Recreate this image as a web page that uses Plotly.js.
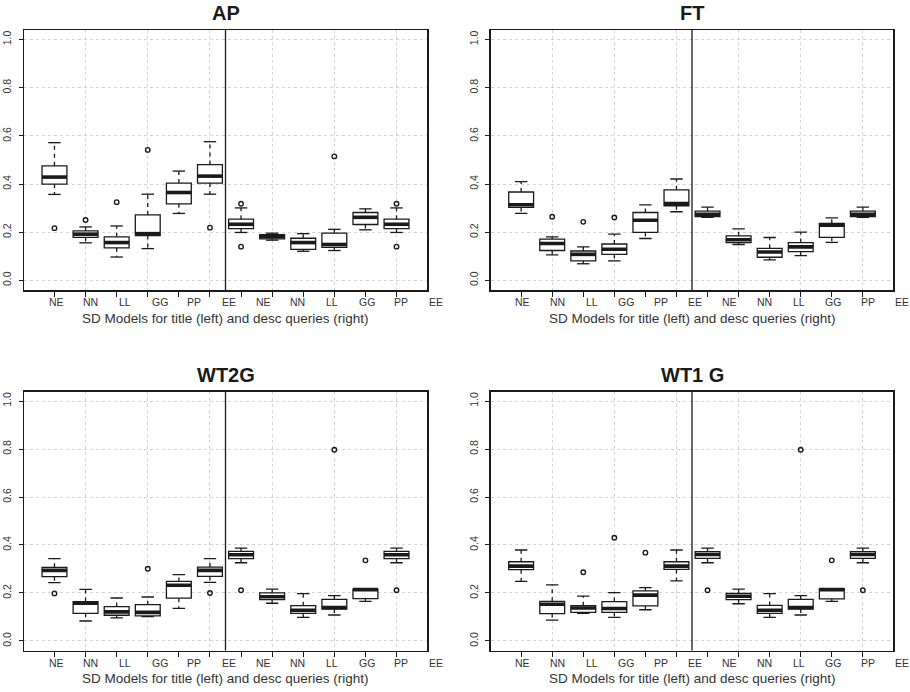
<!DOCTYPE html>
<html>
<head>
<meta charset="utf-8">
<script src="https://cdn.plot.ly/plotly-3.0.1.min.js"></script>
<style>html,body{margin:0;padding:0;background:#fff;}#chart{width:910px;height:692px;}</style>
</head>
<body>
<div id="chart"></div>
<script>
// ---------------- data ----------------
const panelTitles = ['AP', 'FT', 'WT2G', 'WT1 G'];
const models = ['NE', 'NN', 'LL', 'GG', 'PP', 'EE'];
const tickLabels = models.concat(models); // title (left) + desc (right)
const xAxisTitle = 'SD Models for title (left) and desc queries (right)';
const yTickVals = [0, 0.2, 0.4, 0.6, 0.8, 1.0];
const yTickText = ['0.0', '0.2', '0.4', '0.6', '0.8', '1.0'];

// AP
const apLower = [0.357, 0.156, 0.097, 0.132, 0.278, 0.358, 0.199, 0.167, 0.121, 0.124, 0.210, 0.199];
const apQ1    = [0.400, 0.179, 0.135, 0.186, 0.318, 0.404, 0.215, 0.172, 0.129, 0.137, 0.232, 0.215];
const apMed   = [0.429, 0.192, 0.157, 0.194, 0.365, 0.433, 0.233, 0.182, 0.157, 0.149, 0.262, 0.233];
const apQ3    = [0.476, 0.206, 0.181, 0.272, 0.404, 0.481, 0.254, 0.190, 0.175, 0.196, 0.282, 0.254];
const apUpper = [0.572, 0.222, 0.226, 0.358, 0.454, 0.576, 0.301, 0.196, 0.194, 0.212, 0.297, 0.301];
const apOutBox = [1, 2, 3, 4, 6, 7, 7, 10, 12, 12];
const apOutVal = [0.217, 0.251, 0.325, 0.542, 0.219, 0.318, 0.140, 0.515, 0.318, 0.140];

// FT
const ftLower = [0.278, 0.106, 0.069, 0.081, 0.174, 0.285, 0.262, 0.149, 0.085, 0.103, 0.158, 0.262];
const ftQ1    = [0.303, 0.124, 0.081, 0.108, 0.199, 0.310, 0.265, 0.157, 0.096, 0.119, 0.179, 0.265];
const ftMed   = [0.314, 0.153, 0.108, 0.129, 0.250, 0.319, 0.274, 0.169, 0.118, 0.139, 0.229, 0.274];
const ftQ3    = [0.367, 0.171, 0.122, 0.151, 0.282, 0.376, 0.288, 0.185, 0.133, 0.157, 0.237, 0.288];
const ftUpper = [0.410, 0.181, 0.139, 0.192, 0.314, 0.421, 0.304, 0.214, 0.178, 0.200, 0.260, 0.304];
const ftOutBox = [2, 3, 4];
const ftOutVal = [0.264, 0.243, 0.261];

// WT2G
const wt2gLower = [0.243, 0.083, 0.096, 0.101, 0.136, 0.244, 0.326, 0.157, 0.098, 0.108, 0.165, 0.326];
const wt2gQ1    = [0.268, 0.115, 0.107, 0.104, 0.178, 0.269, 0.343, 0.172, 0.115, 0.133, 0.176, 0.343];
const wt2gMed   = [0.294, 0.157, 0.121, 0.119, 0.232, 0.294, 0.359, 0.184, 0.128, 0.139, 0.214, 0.359];
const wt2gQ3    = [0.307, 0.164, 0.143, 0.151, 0.248, 0.308, 0.373, 0.200, 0.147, 0.173, 0.216, 0.373];
const wt2gUpper = [0.343, 0.215, 0.179, 0.183, 0.276, 0.343, 0.387, 0.216, 0.197, 0.189, 0.218, 0.387];
const wt2gOutBox = [1, 4, 6, 7, 10, 11, 12];
const wt2gOutVal = [0.198, 0.301, 0.200, 0.211, 0.797, 0.336, 0.211];

// WT1 G
const wt1gLower = [0.248, 0.087, 0.115, 0.098, 0.130, 0.250, 0.326, 0.155, 0.098, 0.108, 0.165, 0.326];
const wt1gQ1    = [0.297, 0.114, 0.119, 0.119, 0.146, 0.298, 0.344, 0.172, 0.115, 0.133, 0.175, 0.344];
const wt1gMed   = [0.312, 0.153, 0.137, 0.135, 0.191, 0.312, 0.360, 0.186, 0.128, 0.139, 0.214, 0.360];
const wt1gQ3    = [0.330, 0.165, 0.147, 0.164, 0.209, 0.330, 0.372, 0.198, 0.148, 0.173, 0.218, 0.372];
const wt1gUpper = [0.379, 0.234, 0.187, 0.201, 0.222, 0.379, 0.387, 0.216, 0.197, 0.189, 0.218, 0.387];
const wt1gOutBox = [3, 4, 5, 7, 10, 11, 12];
const wt1gOutVal = [0.286, 0.430, 0.368, 0.211, 0.797, 0.336, 0.211];

// ---------------- drawing ----------------
const panelData = [
  {lo: apLower, q1: apQ1, med: apMed, q3: apQ3, hi: apUpper, ob: apOutBox, ov: apOutVal},
  {lo: ftLower, q1: ftQ1, med: ftMed, q3: ftQ3, hi: ftUpper, ob: ftOutBox, ov: ftOutVal},
  {lo: wt2gLower, q1: wt2gQ1, med: wt2gMed, q3: wt2gQ3, hi: wt2gUpper, ob: wt2gOutBox, ov: wt2gOutVal},
  {lo: wt1gLower, q1: wt1gQ1, med: wt1gMed, q3: wt1gQ3, hi: wt1gUpper, ob: wt1gOutBox, ov: wt1gOutVal}
];

const W = 910, H = 692;
const geom = [
  {l: 24, r: 427, t: 30, b: 290},
  {l: 490.7, r: 893.3, t: 30, b: 290},
  {l: 24, r: 427, t: 391.5, b: 650.5},
  {l: 490.7, r: 893.3, t: 391.5, b: 650.5}
];
const XR = [0.02, 12.98];
const FONT = 'Liberation Sans, Arial, Helvetica, sans-serif';
const INK = '#1a1a1a';
const GRID = '#d4d4d4';
const BOXW = 0.8, STAPLE = 0.4;

const traces = [];
const layout = {
  width: W, height: H,
  margin: {l: 0, r: 0, t: 0, b: 0},
  paper_bgcolor: '#fff', plot_bgcolor: '#fff',
  showlegend: false,
  font: {family: FONT, color: INK},
  annotations: [], shapes: []
};

const positions = tickLabels.map((_, i) => i + 1);
const evenPos = positions.filter(p => p % 2 === 0);
const oddPos = positions.filter(p => p % 2 === 1);

panelData.forEach((d, k) => {
  const g = geom[k];
  const xa = 'x' + (k === 0 ? '' : k + 1);
  const ya = 'y' + (k === 0 ? '' : k + 1);
  const xKey = 'xaxis' + (k === 0 ? '' : k + 1);
  const yKey = 'yaxis' + (k === 0 ? '' : k + 1);
  // maps an x-axis value to paper fraction (for labels that fall beyond the axis range)
  const toPaperX = v => (g.l + (v - XR[0]) / (XR[1] - XR[0]) * (g.r - g.l)) / W;

  layout[xKey] = {
    domain: [g.l / W, g.r / W],
    anchor: ya,
    range: XR,
    tickmode: 'array', tickvals: evenPos, ticktext: evenPos.map(() => ''),
    showticklabels: false,
    ticks: 'outside', ticklen: 5, tickwidth: 1, tickcolor: INK,
    showgrid: true, gridcolor: GRID, gridwidth: 1, griddash: 'dot',
    minor: {tickmode: 'array', tickvals: oddPos, ticks: 'outside', ticklen: 5, tickwidth: 1, tickcolor: INK, showgrid: false},
    zeroline: false,
    showline: true, linecolor: INK, linewidth: 1.5, mirror: true,
    fixedrange: true
  };
  layout[yKey] = {
    domain: [1 - g.b / H, 1 - g.t / H],
    anchor: xa,
    range: [-0.04, 1.04],
    tickmode: 'array', tickvals: yTickVals, ticktext: yTickText,
    tickangle: -90,
    ticks: 'outside', ticklen: 4, tickwidth: 1, tickcolor: INK,
    tickfont: {size: 10.5, color: '#333', family: FONT},
    ticklabelstandoff: 3,
    showgrid: true, gridcolor: GRID, gridwidth: 1, griddash: 'dot',
    zeroline: false,
    showline: true, linecolor: INK, linewidth: 1.5, mirror: true,
    fixedrange: true
  };

  // boxes (quartiles)
  traces.push({
    type: 'box', xaxis: xa, yaxis: ya,
    x: positions, q1: d.q1, median: d.med, q3: d.q3,
    lowerfence: d.q1, upperfence: d.q3,
    width: BOXW, whiskerwidth: 0,
    fillcolor: '#ffffff',
    line: {color: INK, width: 1.3},
    boxpoints: false, hoverinfo: 'skip'
  });

  // dashed whiskers
  const wx = [], wy = [];
  positions.forEach((p, i) => {
    wx.push(p, p, null, p, p, null);
    wy.push(d.q3[i], d.hi[i], null, d.q1[i], d.lo[i], null);
  });
  traces.push({type: 'scatter', mode: 'lines', xaxis: xa, yaxis: ya, x: wx, y: wy,
    line: {color: INK, width: 1.3, dash: '4px,4px'}, hoverinfo: 'skip'});

  // staples
  const sx = [], sy = [];
  positions.forEach((p, i) => {
    sx.push(p - STAPLE / 2, p + STAPLE / 2, null, p - STAPLE / 2, p + STAPLE / 2, null);
    sy.push(d.hi[i], d.hi[i], null, d.lo[i], d.lo[i], null);
  });
  traces.push({type: 'scatter', mode: 'lines', xaxis: xa, yaxis: ya, x: sx, y: sy,
    line: {color: INK, width: 1.3}, hoverinfo: 'skip'});

  // thick medians
  const mx = [], my = [];
  positions.forEach((p, i) => {
    mx.push(p - BOXW / 2, p + BOXW / 2, null);
    my.push(d.med[i], d.med[i], null);
  });
  traces.push({type: 'scatter', mode: 'lines', xaxis: xa, yaxis: ya, x: mx, y: my,
    line: {color: INK, width: 3.6}, hoverinfo: 'skip'});

  // outliers
  traces.push({type: 'scatter', mode: 'markers', xaxis: xa, yaxis: ya,
    x: d.ob, y: d.ov,
    marker: {symbol: 'circle-open', size: 4.5, color: INK, line: {width: 1.4, color: INK}},
    hoverinfo: 'skip'});

  // separator between title and desc query models
  layout.shapes.push({type: 'line', xref: xa, yref: ya + ' domain',
    x0: models.length + 0.5, x1: models.length + 0.5, y0: 0, y1: 1,
    line: {color: INK, width: 1.3}});

  // panel title
  layout.annotations.push({text: '<b>' + panelTitles[k] + '</b>', xref: 'paper', yref: 'paper',
    x: (g.l + g.r) / 2 / W, y: 1 - (g.t - 17) / H, xanchor: 'center', yanchor: 'middle',
    showarrow: false, font: {size: 20, family: FONT, color: INK}});

  // x tick labels (placed as in the original, slightly wider spacing than the boxes)
  tickLabels.forEach((lab, i) => {
    layout.annotations.push({text: lab, xref: 'paper', yref: 'paper',
      x: toPaperX(1.05 + 1.11 * i), y: 1 - (g.b + 12) / H, xanchor: 'center', yanchor: 'middle',
      showarrow: false, font: {size: 10.5, family: FONT, color: '#333'}});
  });

  // x axis title
  layout.annotations.push({text: xAxisTitle, xref: 'paper', yref: 'paper',
    x: (g.l + g.r) / 2 / W, y: 1 - (g.b + 28) / H, xanchor: 'center', yanchor: 'middle',
    showarrow: false, font: {size: 13.5, family: FONT, color: '#333'}});
});

Plotly.newPlot('chart', traces, layout, {staticPlot: true, displayModeBar: false});
</script>
</body>
</html>
